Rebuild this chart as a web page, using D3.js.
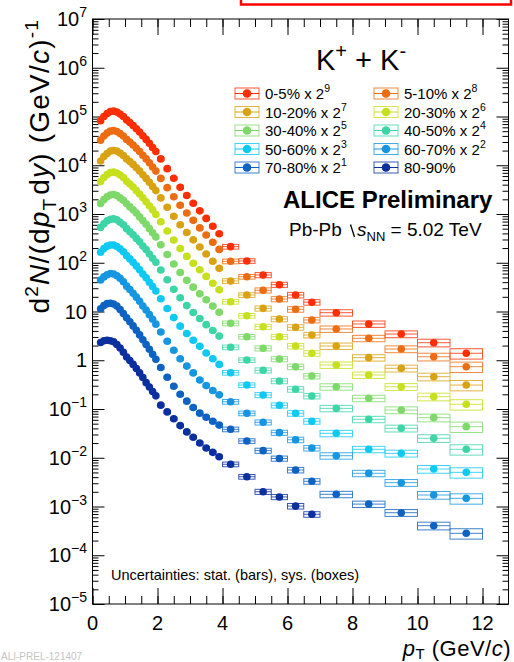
<!DOCTYPE html>
<html><head><meta charset="utf-8">
<script src="https://cdn.jsdelivr.net/npm/d3@7"></script>
<style>
body{margin:0;background:#fff;}
svg{display:block;font-family:"Liberation Sans",Arial,Helvetica,sans-serif;}
</style>
</head><body>
<svg id="c" width="514" height="662"></svg>
<script>
// ---------------- data ----------------
const pT = [0.25,0.35,0.45,0.55,0.65,0.75,0.85,0.95,1.05,1.15,1.25,1.35,1.45,1.55,1.65,1.75,1.85,1.95,
            2.1,2.3,2.5,2.7,2.9,3.1,3.3,3.5,3.7,3.9,
            4.25,4.75,5.25,5.75,6.25,6.75,
            7.5,8.5,9.5,10.5,11.5];
const pTHalfWidth = [0.05,0.05,0.05,0.05,0.05,0.05,0.05,0.05,0.05,0.05,0.05,0.05,0.05,0.05,0.05,0.05,0.05,0.05,
            0.1,0.1,0.1,0.1,0.1,0.1,0.1,0.1,0.1,0.1,
            0.25,0.25,0.25,0.25,0.25,0.25,
            0.5,0.5,0.5,0.5,0.5];
const sysRel = [0.06,0.06,0.06,0.06,0.06,0.06,0.06,0.06,0.06,0.06,0.06,0.06,0.06,0.06,0.06,0.06,0.06,0.06,
            0.07,0.07,0.07,0.07,0.07,0.07,0.07,0.07,0.07,0.07,
            0.11,0.11,0.12,0.12,0.13,0.13,
            0.15,0.15,0.16,0.18,0.24];
const statRel = [0.005,0.005,0.005,0.005,0.005,0.005,0.005,0.005,0.005,0.005,0.005,0.005,0.005,0.005,0.005,0.005,0.005,0.005,
            0.01,0.01,0.01,0.01,0.01,0.01,0.01,0.01,0.01,0.01,
            0.02,0.02,0.03,0.03,0.04,0.05,
            0.05,0.06,0.08,0.10,0.12];

const centralities = ["0-5%","5-10%","10-20%","20-30%","30-40%","40-50%","50-60%","60-70%","70-80%","80-90%"];
const scaleExponents = [9,8,7,6,5,4,3,2,1,0];

// yields as plotted (already multiplied by 2^n)
const k_0_5 = [8.22e4,1.00e5,1.15e5,1.26e5,1.29e5,1.23e5,1.12e5,1.00e5,8.51e4,7.50e4,6.53e4,5.62e4,4.79e4,4.03e4,3.39e4,2.82e4,2.32e4,1.91e4,
  1.35e4,8.51e3,5.43e3,3.55e3,2.40e3,1.66e3,1.16e3,813,562,394, 214,109,56.1,35.5,21.8,15.5, 9.46,5.55,3.45,2.29,1.39];
const k_5_10 = [3.27e4,3.98e4,4.57e4,5.01e4,5.13e4,4.90e4,4.47e4,3.98e4,3.39e4,2.99e4,2.60e4,2.24e4,1.91e4,1.60e4,1.35e4,1.12e4,9.23e3,7.59e3,
  5.37e3,3.47e3,2.26e3,1.51e3,1.05e3,741,519,372,263,188, 107,51.8,27.2,18.0,11.1,6.70, 4.38,2.82,1.70,1.18,0.738];
const k_10_20 = [1.22e4,1.51e4,1.74e4,1.95e4,2.00e4,1.95e4,1.78e4,1.58e4,1.35e4,1.19e4,1.04e4,8.91e3,7.59e3,6.38e3,5.37e3,4.47e3,3.67e3,3.02e3,
  2.14e3,1.38e3,902,603,417,295,211,151,107,76.7, 42.3,21.8,11.6,7.01,4.74,3.30, 1.96,1.13,0.684,0.460,0.310];
const k_20_30 = [4.62e3,5.62e3,6.46e3,7.08e3,7.24e3,6.92e3,6.31e3,5.62e3,4.68e3,4.12e3,3.59e3,3.02e3,2.57e3,2.16e3,1.78e3,1.48e3,1.22e3,977,
  692,447,292,195,135,97.7,71.6,52.5,38.0,27.9, 15.9,8.20,4.88,3.04,1.96,1.39, 0.800,0.498,0.286,0.179,0.125];
const k_30_40 = [1.64e3,1.97e3,2.26e3,2.45e3,2.51e3,2.40e3,2.14e3,1.91e3,1.62e3,1.40e3,1.22e3,1.05e3,871,733,617,501,412,339,
  234,148,94.4,63.1,43.7,31.6,23.2,17.4,12.9,9.66, 5.73,3.04,1.76,1.06,0.738,0.475, 0.286,0.166,0.0953,0.0664,0.0434];
const k_40_50 = [531,631,724,776,794,759,676,603,501,432,376,316,269,221,186,151,124,102,
  70.8,44.7,28.5,19.1,13.2,9.55,7.16,5.37,4.07,3.13, 1.85,1.01,0.622,0.375,0.254,0.185, 0.103,0.0615,0.0402,0.0251,0.0149];
const k_50_60 = [164,195,219,232,232,216,193,168,140,120,102,86.1,71.6,58.9,49.0,39.8,32.4,26.3,
  18.2,11.5,7.50,5.01,3.55,2.57,1.93,1.41,1.07,0.822, 0.556,0.310,0.194,0.119,0.0817,0.0560, 0.0317,0.0149,0.0123,0.00587,0.00502];
const k_60_70 = [44.2,51.3,56.9,60.3,58.9,54.3,47.9,40.7,33.1,28.2,23.7,19.7,16.2,13.0,10.7,8.61,6.92,5.50,
  3.80,2.45,1.60,1.07,0.759,0.550,0.394,0.302,0.240,0.195, 0.141,0.0817,0.0533,0.0327,0.0234,0.0158, 0.0110,0.00480,0.00308,0.00172,0.00147];
const k_70_80 = [11.4,13.2,14.5,14.8,14.3,12.9,11.0,9.12,7.41,6.17,5.07,4.12,3.31,2.63,2.11,1.68,1.32,1.05,
  0.708,0.447,0.292,0.200,0.145,0.107,0.0822,0.0676,0.0562,0.0468, 0.0383,0.0221,0.0140,0.00966,0.00561,0.00329, 0.00178,0.00112,0.000746,0.000404,0.000282];
const k_80_90 = [2.32,2.51,2.57,2.51,2.40,2.11,1.78,1.46,1.17,0.989,0.822,0.676,0.550,0.442,0.347,0.282,0.229,0.186,
  0.120,0.0871,0.0631,0.0457,0.0339,0.0263,0.0200,0.0158,0.0129,0.0105, 0.00735,0.00408,0.00201,0.00157,0.00102,0.000692];

const seriesValues = [k_0_5,k_5_10,k_10_20,k_20_30,k_30_40,k_40_50,k_50_60,k_60_70,k_70_80,k_80_90];
const colors = ["#ff2e00","#ec6c12","#d8a213","#c6e01e","#7fd96a","#3ed5a6","#10c9f3","#1696e0","#0d62c2","#0b2f9e"];

const xTickValues = [0,2,4,6,8,10,12];
const yTickExponents = [-5,-4,-3,-2,-1,0,1,2,3,4,5,6,7];

// ---------------- layout ----------------
const L = 92.5, R = 508.5, T = 19, B = 604;
const svg = d3.select("#c");
const x = d3.scaleLinear().domain([0, 12.8]).range([L, R]);
const y = d3.scaleLog().domain([1e-5, 1e7]).range([B, T]);

// red box remnant at top
svg.append("rect").attr("x",241).attr("y",-10).attr("width",270).attr("height",14.5)
  .attr("fill","none").attr("stroke","#ff0000").attr("stroke-width",2.5);

// ---------------- axes ----------------
const minorX = d3.range(0, 12.81, 0.5);
const minorY = [];
for (let e = -5; e < 7; e++) for (let m = 2; m <= 9; m++) minorY.push(m * Math.pow(10, e));
const majorY = yTickExponents.map(e => Math.pow(10, e));

function styleAxis(g){ g.select(".domain").remove(); g.selectAll("line").attr("stroke","#000").attr("stroke-width",1); g.selectAll("text").remove(); }

svg.append("g").attr("transform",`translate(0,${B})`).call(d3.axisBottom(x).tickValues(minorX).tickSizeInner(-8).tickSizeOuter(0)).call(styleAxis);
svg.append("g").attr("transform",`translate(0,${B})`).call(d3.axisBottom(x).tickValues(xTickValues).tickSizeInner(-16).tickSizeOuter(0)).call(styleAxis);
svg.append("g").attr("transform",`translate(0,${T})`).call(d3.axisTop(x).tickValues(minorX).tickSizeInner(-8).tickSizeOuter(0)).call(styleAxis);
svg.append("g").attr("transform",`translate(0,${T})`).call(d3.axisTop(x).tickValues(xTickValues).tickSizeInner(-16).tickSizeOuter(0)).call(styleAxis);
svg.append("g").attr("transform",`translate(${L},0)`).call(d3.axisLeft(y).tickValues(minorY).tickSizeInner(-6).tickSizeOuter(0)).call(styleAxis);
svg.append("g").attr("transform",`translate(${L},0)`).call(d3.axisLeft(y).tickValues(majorY).tickSizeInner(-12).tickSizeOuter(0)).call(styleAxis);
svg.append("g").attr("transform",`translate(${R},0)`).call(d3.axisRight(y).tickValues(minorY).tickSizeInner(-6).tickSizeOuter(0)).call(styleAxis);
svg.append("g").attr("transform",`translate(${R},0)`).call(d3.axisRight(y).tickValues(majorY).tickSizeInner(-12).tickSizeOuter(0)).call(styleAxis);

svg.append("rect").attr("x",L).attr("y",T).attr("width",R-L).attr("height",B-T)
  .attr("fill","none").attr("stroke","#000").attr("stroke-width",1);

// x tick labels
svg.append("g").selectAll("text").data(xTickValues).join("text")
  .attr("x", d => x(d)).attr("y", 630).attr("text-anchor","middle")
  .attr("font-size",20).attr("fill","#000").text(d => d);

// y tick labels
const yl = svg.append("g").selectAll("text").data(yTickExponents).join("text")
  .attr("x", 87).attr("y", d => y(Math.pow(10,d)) + 7).attr("text-anchor","end")
  .attr("font-size",20).attr("fill","#000");
yl.each(function(e){
  const t = d3.select(this);
  if (e === 0) { t.text("1"); return; }
  if (e === 1) { t.text("10"); return; }
  t.append("tspan").text("10");
  t.append("tspan").attr("dy",-9).attr("font-size",14).text(e < 0 ? "\u2212" + (-e) : String(e));
});

// axis titles
const yt = svg.append("text").attr("transform","translate(49,19) rotate(-90)")
  .attr("text-anchor","end").attr("font-size",28).attr("letter-spacing",1.2).attr("fill","#000");
yt.append("tspan").text("d");
yt.append("tspan").attr("dy",-11).attr("font-size",19).text("2");
yt.append("tspan").attr("dy",11).attr("font-style","italic").text("N");
yt.append("tspan").text("/(d");
yt.append("tspan").attr("font-style","italic").text("p");
yt.append("tspan").attr("dy",7).attr("font-size",19).text("T");
yt.append("tspan").attr("dy",-7).attr("dx",3).text("d");
yt.append("tspan").attr("font-style","italic").text("y");
yt.append("tspan").text(") (GeV/");
yt.append("tspan").attr("font-style","italic").text("c");
yt.append("tspan").text(")");
yt.append("tspan").attr("dy",-11).attr("font-size",19).text("-1");

const xt = svg.append("text").attr("x",511).attr("y",655.5).attr("text-anchor","end")
  .attr("font-size",22).attr("letter-spacing",0.5).attr("fill","#000");
xt.append("tspan").attr("font-style","italic").text("p");
xt.append("tspan").attr("dy",3.5).attr("font-size",15).text("T");
xt.append("tspan").attr("dy",-3.5).text(" (GeV/");
xt.append("tspan").attr("font-style","italic").text("c");
xt.append("tspan").text(")");

// ---------------- data marks ----------------
const plot = svg.append("g");
seriesValues.forEach((vals, si) => {
  const col = colors[si];
  const pts = vals.map((v, i) => ({pt: pT[i], hw: pTHalfWidth[i], v, s: sysRel[i], st: statRel[i]}));
  const g = plot.append("g");
  g.selectAll("rect.sys").data(pts).join("rect").attr("class","sys")
    .attr("x", d => x(d.pt - d.hw)).attr("width", d => x(d.pt + d.hw) - x(d.pt - d.hw))
    .attr("y", d => y(d.v * (1 + d.s))).attr("height", d => y(d.v * (1 - d.s)) - y(d.v * (1 + d.s)))
    .attr("fill","none").attr("stroke",col).attr("stroke-width",1).attr("stroke-opacity",0.8);
  g.selectAll("line.xe").data(pts).join("line").attr("class","xe")
    .attr("x1", d => x(d.pt - d.hw)).attr("x2", d => x(d.pt + d.hw))
    .attr("y1", d => y(d.v)).attr("y2", d => y(d.v))
    .attr("stroke",col).attr("stroke-width",1).attr("stroke-opacity",0.8);
  g.selectAll("line.st").data(pts).join("line").attr("class","st")
    .attr("x1", d => x(d.pt)).attr("x2", d => x(d.pt))
    .attr("y1", d => y(d.v * (1 + d.st))).attr("y2", d => y(d.v * (1 - d.st)))
    .attr("stroke",col).attr("stroke-width",1);
  g.selectAll("circle").data(pts).join("circle")
    .attr("cx", d => x(d.pt)).attr("cy", d => y(d.v)).attr("r",3.8).attr("fill",col);
});

// ---------------- legend ----------------
svg.append("text").attr("x",316).attr("y",70).attr("font-size",29).attr("fill","#000")
  .call(t => { t.append("tspan").text("K");
               t.append("tspan").attr("dy",-12).attr("font-size",20).text("+");
               t.append("tspan").attr("dy",12).text(" + K");
               t.append("tspan").attr("dy",-12).attr("font-size",20).text("-"); });

const legCols = [235, 374], legRow0 = 93.5, legDy = 18.5;
centralities.forEach((c, i) => {
  const col = i % 2, row = Math.floor(i / 2);
  const lx = legCols[col], ly = legRow0 + row * legDy;
  const g = svg.append("g");
  g.append("rect").attr("x",lx).attr("y",ly-5.5).attr("width",24).attr("height",11)
    .attr("fill","none").attr("stroke",colors[i]).attr("stroke-width",1).attr("stroke-opacity",0.8);
  g.append("line").attr("x1",lx).attr("x2",lx+24).attr("y1",ly).attr("y2",ly)
    .attr("stroke",colors[i]).attr("stroke-width",1);
  g.append("circle").attr("cx",lx+12).attr("cy",ly).attr("r",4.3).attr("fill",colors[i]);
  const t = g.append("text").attr("x",lx+30).attr("y",ly+5.5).attr("font-size",15).attr("fill","#000");
  if (scaleExponents[i] > 0) {
    t.append("tspan").text(c + " x 2");
    t.append("tspan").attr("dy",-7).attr("font-size",10.5).text(String(scaleExponents[i]));
  } else t.text(c);
});

svg.append("text").attr("x",283).attr("y",208).attr("font-size",24).attr("font-weight","bold")
  .attr("fill","#000").text("ALICE Preliminary");

svg.append("text").attr("x",289).attr("y",236).attr("font-size",19).attr("fill","#000").text("Pb-Pb");
svg.append("line").attr("x1",350.5).attr("y1",224.5).attr("x2",354.5).attr("y2",237)
  .attr("stroke","#000").attr("stroke-width",1.3);
svg.append("text").attr("x",357).attr("y",236).attr("font-size",19).attr("fill","#000")
  .call(t => { t.append("tspan").attr("font-style","italic").text("s");
               t.append("tspan").attr("dy",5).attr("font-size",13).text("NN");
               t.append("tspan").attr("dy",-5).text(" = 5.02 TeV"); });

svg.append("text").attr("x",111).attr("y",580).attr("font-size",14.5).attr("fill","#000")
  .text("Uncertainties: stat. (bars), sys. (boxes)");

svg.append("text").attr("x",1).attr("y",660).attr("font-size",10).attr("fill","#c4c4c4")
  .text("ALI-PREL-121407");
</script>
</body></html>
